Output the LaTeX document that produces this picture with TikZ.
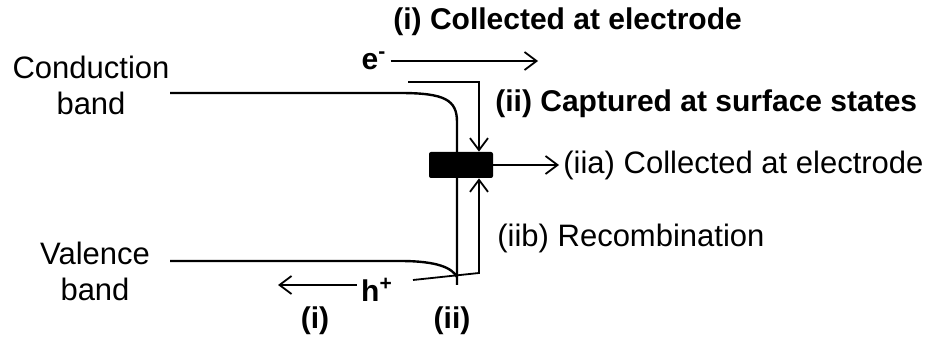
\documentclass[tikz,border=0pt]{standalone}
\usepackage{fontspec}
\setmainfont{Liberation Sans}
\usetikzlibrary{arrows.meta}

\begin{document}
\begin{tikzpicture}[x=0.5pt,y=-0.5pt]
		\tikzset{txt/.style={inner sep=2pt,font=\fontsize{15.5}{18}\selectfont},
			boldtxt/.style={inner sep=2pt,font=\fontsize{15}{18}\selectfont\bfseries},
			band/.style={line width=1.2pt},
			arr/.style={line width=0.9pt,-{Straight Barb[length=6pt,width=9pt]}},
			trapbox/.style={fill=black,rounded corners=1pt,minimum width=32pt,minimum height=13pt,inner sep=0pt}};
		\useasboundingbox (0,0) rectangle (936,341);
		% band edges
		\node[txt,align=center] (cb) at (91,85) {Conduction\\band};
		\node[txt,align=center] (vb) at (95,271) {Valence\\band};
		\coordinate (cbL) at (170,93);
		\coordinate (vbL) at (170,261);
		\coordinate (surfbot) at (457,285);
		\draw[band] (cbL) -- (400,93) .. controls (445,93) and (457,100) .. (457,122) -- (surfbot);
		\draw[band] (vbL) -- (400,261) .. controls (438,261) and (452,268) .. (457,277);
		% carriers
		\node[boldtxt] (elab) at (374,61) {e\textsuperscript{-}};
		\node[boldtxt] (hlab) at (377,290) {h\textsuperscript{+}};
		\coordinate (eend) at (538,61);
		\coordinate (hend) at (278,285);
		\coordinate (capstart) at (408,82);
		\coordinate (recstart) at (413,280);
		\coordinate (reccorner) at (479,273);
		\draw[arr] (elab.east |- eend) -- (eend);
		\draw[arr] (hlab.west |- hend) -- (hend);
		% surface state
		\node[trapbox] (trap) at (461,165) {};
		\draw[arr] (capstart) -| ([xshift=9pt]trap.north);
		\draw[arr] (recstart) -- (reccorner) -- ([xshift=9pt]trap.south);
		% labels
		\node[boldtxt,anchor=west] (coll) at (389,22) {(i) Collected at electrode};
		\node[boldtxt,anchor=west] (capt) at (491,104) {(ii) Captured at surface states};
		\node[txt,anchor=west] (iia) at (559,165) {(iia) Collected at electrode};
		\node[txt,anchor=west] (iib) at (493,238) {(iib) Recombination};
		\draw[arr] (trap.east) -- (iia.west);
		\node[boldtxt] (pi) at (315,321) {(i)};
		\node[boldtxt] (pii) at (452,321) {(ii)};
	\end{tikzpicture}
\end{document}
